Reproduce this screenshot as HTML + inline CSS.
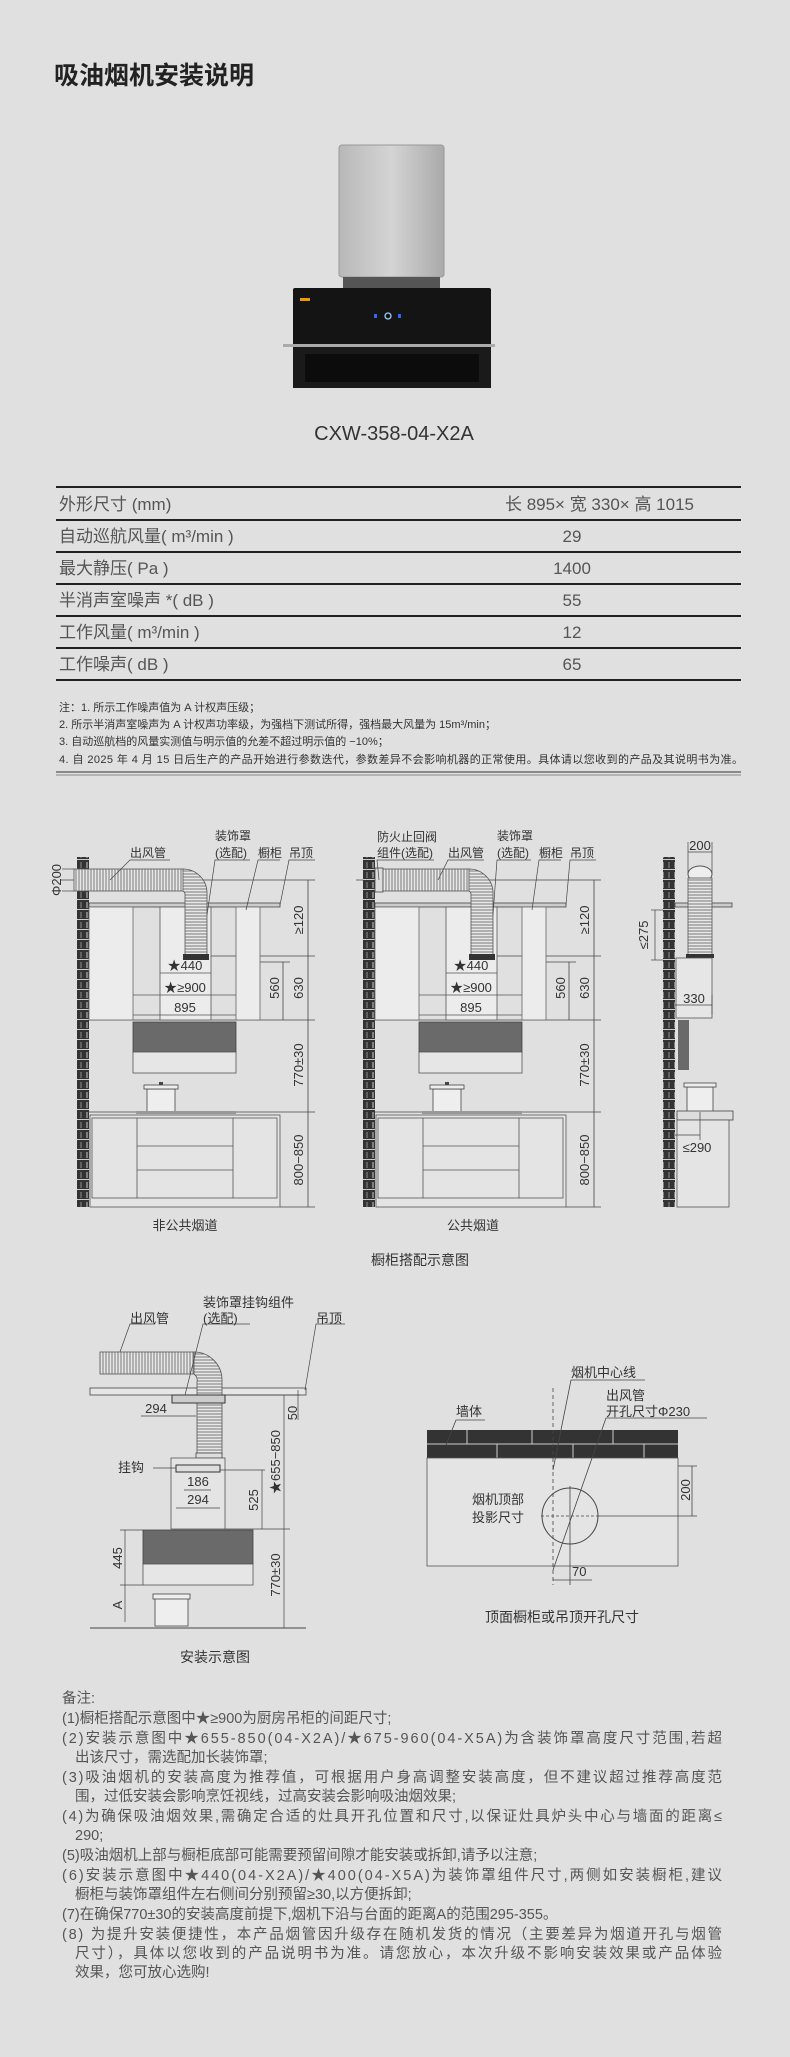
<!DOCTYPE html>
<html><head><meta charset="utf-8"><style>
html,body{margin:0;padding:0;background:#e0e0e0;}
svg{display:block;}
text{font-family:"Liberation Sans","Noto Sans CJK SC",sans-serif;}
</style></head><body>
<svg width="790" height="2057" viewBox="0 0 790 2057" xmlns="http://www.w3.org/2000/svg">
<defs>
<pattern id="st" width="3" height="3" patternUnits="userSpaceOnUse"><rect width="3" height="3" fill="#e8e8e8"/><line x1="1" y1="0" x2="1" y2="3" stroke="#777" stroke-width="1"/></pattern>
<pattern id="sth" width="3" height="3" patternUnits="userSpaceOnUse"><rect width="3" height="3" fill="#e8e8e8"/><line x1="0" y1="1" x2="3" y2="1" stroke="#777" stroke-width="1"/></pattern>
<pattern id="brk" width="12" height="10" patternUnits="userSpaceOnUse"><rect width="12" height="10" fill="#333"/><line x1="0" y1="9.5" x2="12" y2="9.5" stroke="#ccc" stroke-width="1"/><line x1="3" y1="2" x2="3" y2="8" stroke="#ccc"/><line x1="9" y1="2" x2="9" y2="8" stroke="#ccc" stroke-width="0.6"/></pattern>
<linearGradient id="sil" x1="0" x2="1"><stop offset="0" stop-color="#b8b8b8"/><stop offset="0.5" stop-color="#d4d4d4"/><stop offset="1" stop-color="#aaa"/></linearGradient>
</defs>
<rect width="790" height="2057" fill="#e0e0e0"/>
<text x="54" y="84" font-size="25" font-weight="bold" fill="#222">吸油烟机安装说明</text>

<!-- product -->
<rect x="339" y="145" width="105" height="132" rx="3" fill="url(#sil)" stroke="#999"/>
<rect x="343" y="277" width="97" height="12" fill="#555"/>
<rect x="293" y="288" width="198" height="58" rx="2" fill="#141414"/>
<circle cx="388" cy="316" r="3" fill="none" stroke="#9cf" stroke-width="1.3"/>
<rect x="374" y="314" width="3" height="4" fill="#36f"/><rect x="398" y="314" width="3" height="4" fill="#36f"/>
<rect x="300" y="298" width="10" height="3" fill="#e90"/>
<rect x="283" y="344" width="212" height="3" fill="#aaa"/>
<rect x="293" y="347" width="198" height="41" fill="#1a1a1a"/>
<rect x="305" y="354" width="174" height="28" fill="#0c0c0c"/>
<text x="394" y="440" font-size="20" fill="#333" text-anchor="middle">CXW-358-04-X2A</text>

<!-- table -->
<g stroke="#222" stroke-width="2">
<line x1="56" y1="487" x2="741" y2="487"/><line x1="56" y1="520" x2="741" y2="520"/><line x1="56" y1="552" x2="741" y2="552"/><line x1="56" y1="584" x2="741" y2="584"/><line x1="56" y1="616" x2="741" y2="616"/><line x1="56" y1="648" x2="741" y2="648"/><line x1="56" y1="680" x2="741" y2="680"/>
</g>
<g font-size="17" fill="#555">
<text x="59" y="510">外形尺寸 (mm)</text><text x="694" y="510" text-anchor="end">长 895× 宽 330× 高 1015</text>
<text x="59" y="542">自动巡航风量( m³/min )</text><text x="572" y="542" text-anchor="middle">29</text>
<text x="59" y="574">最大静压( Pa )</text><text x="572" y="574" text-anchor="middle">1400</text>
<text x="59" y="606">半消声室噪声 *( dB )</text><text x="572" y="606" text-anchor="middle">55</text>
<text x="59" y="638">工作风量( m³/min )</text><text x="572" y="638" text-anchor="middle">12</text>
<text x="59" y="670">工作噪声( dB )</text><text x="572" y="670" text-anchor="middle">65</text>
</g>
<g font-size="11" fill="#333">
<text x="59" y="711">注：1. 所示工作噪声值为 A 计权声压级；</text>
<text x="59" y="728">2. 所示半消声室噪声为 A 计权声功率级，为强档下测试所得，强档最大风量为 15m³/min；</text>
<text x="59" y="745">3. 自动巡航档的风量实测值与明示值的允差不超过明示值的 −10%；</text>
<text x="59" y="763" textLength="684">4. 自 2025 年 4 月 15 日后生产的产品开始进行参数迭代，参数差异不会影响机器的正常使用。具体请以您收到的产品及其说明书为准。</text>
</g>
<line x1="56" y1="772" x2="741" y2="772" stroke="#333" stroke-width="1"/><line x1="56" y1="775" x2="741" y2="775" stroke="#888" stroke-width="1"/>

<!-- Diagram 1 and 2 -->
<g id="d1">
<g fill="none" stroke="#444" stroke-width="0.8">
<line x1="60" y1="880" x2="315" y2="880"/>
<line x1="210" y1="956" x2="315" y2="956"/>
<line x1="236" y1="962" x2="290" y2="962"/>
<line x1="89" y1="1020" x2="315" y2="1020"/>
<line x1="89" y1="1112" x2="315" y2="1112"/>
<line x1="280" y1="1207" x2="315" y2="1207"/>
<line x1="308" y1="880" x2="308" y2="1207"/>
<line x1="283" y1="962" x2="283" y2="1020"/>
</g>
<rect x="77" y="857" width="12" height="350" fill="url(#brk)"/>
<rect x="89" y="903" width="191" height="4" fill="#ccc" stroke="#444" stroke-width="0.8"/>
<rect x="89" y="907" width="44" height="113" fill="#ececec" stroke="#666" stroke-width="0.8"/>
<rect x="236" y="907" width="24" height="113" fill="#ececec" stroke="#666" stroke-width="0.8"/>
<rect x="160" y="907" width="51" height="113" fill="#ececec" stroke="#555" stroke-width="0.8"/>
<rect x="74" y="869" width="110" height="22" fill="url(#st)" stroke="#555" stroke-width="0.8"/>
<path d="M183 869 A24 24 0 0 1 207 893 L207 955 L185 955 L185 895 A4 4 0 0 0 183 891 Z" fill="url(#sth)" stroke="#555" stroke-width="0.8"/>
<rect x="183" y="954" width="26" height="6" fill="#333"/>
<rect x="133" y="1022" width="103" height="30" fill="#6a6a6a" stroke="#444" stroke-width="0.8"/>
<rect x="133" y="1052" width="103" height="21" fill="#e6e6e6" stroke="#555" stroke-width="0.8"/>
<rect x="147" y="1089" width="28" height="24" fill="#eee" stroke="#444" stroke-width="0.8"/>
<rect x="144" y="1085" width="34" height="4" fill="#eee" stroke="#444" stroke-width="0.8"/>
<rect x="159" y="1082" width="4" height="3" fill="#444"/>
<rect x="136" y="1111" width="100" height="3" fill="#999"/>
<g fill="none" stroke="#555" stroke-width="0.8">
<rect x="90" y="1115" width="190" height="92" fill="#e4e4e4"/>
<rect x="92" y="1118" width="185" height="80"/>
<line x1="137" y1="1118" x2="137" y2="1198"/><line x1="233" y1="1118" x2="233" y2="1198"/>
<line x1="137" y1="1146" x2="233" y2="1146"/><line x1="137" y1="1170" x2="233" y2="1170"/>
<line x1="160" y1="973" x2="211" y2="973"/><line x1="133" y1="995" x2="236" y2="995"/><line x1="133" y1="1015" x2="236" y2="1015"/>
</g>
<g font-size="13" fill="#333" text-anchor="middle">
<text x="185" y="970">★440</text><text x="185" y="992">★≥900</text><text x="185" y="1012">895</text>
<text transform="translate(303,920) rotate(-90)" text-anchor="middle" font-size="13">≥120</text>
<text transform="translate(303,988) rotate(-90)" font-size="13">630</text>
<text transform="translate(279,988) rotate(-90)" font-size="13">560</text>
<text transform="translate(303,1065) rotate(-90)" font-size="13">770±30</text>
<text transform="translate(303,1160) rotate(-90)" font-size="13">800−850</text>
</g>
</g>
<!-- d1 labels -->
<g font-size="12" fill="#333">
<text x="130" y="857">出风管</text><text x="215" y="840">装饰罩</text><text x="215" y="857">(选配)</text><text x="258" y="857">橱柜</text><text x="289" y="857">吊顶</text>
<text transform="translate(61,880) rotate(-90)" text-anchor="middle" font-size="13">Φ200</text>
</g>
<g stroke="#444" stroke-width="0.7" fill="none">
<polyline points="170,860 130,860 110,880"/><polyline points="250,860 215,860 207,915"/><polyline points="280,860 258,860 246,910"/><polyline points="315,860 289,860 280,905"/>
<line x1="62" y1="869" x2="74" y2="869"/><line x1="62" y1="891" x2="74" y2="891"/>
</g>
<g transform="translate(286,0)">
<g fill="none" stroke="#444" stroke-width="0.8">
<line x1="70" y1="880" x2="315" y2="880"/><line x1="210" y1="956" x2="315" y2="956"/><line x1="236" y1="962" x2="290" y2="962"/>
<line x1="89" y1="1020" x2="315" y2="1020"/><line x1="89" y1="1112" x2="315" y2="1112"/><line x1="280" y1="1207" x2="315" y2="1207"/>
<line x1="308" y1="880" x2="308" y2="1207"/><line x1="283" y1="962" x2="283" y2="1020"/>
</g>
<rect x="77" y="857" width="12" height="350" fill="url(#brk)"/>
<rect x="89" y="868" width="8" height="24" fill="#ddd" stroke="#444" stroke-width="0.8"/>
<rect x="89" y="903" width="191" height="4" fill="#ccc" stroke="#444" stroke-width="0.8"/>
<rect x="89" y="907" width="44" height="113" fill="#ececec" stroke="#666" stroke-width="0.8"/>
<rect x="236" y="907" width="24" height="113" fill="#ececec" stroke="#666" stroke-width="0.8"/>
<rect x="160" y="907" width="51" height="113" fill="#ececec" stroke="#555" stroke-width="0.8"/>
<rect x="97" y="869" width="87" height="22" fill="url(#st)" stroke="#555" stroke-width="0.8"/>
<path d="M183 869 A24 24 0 0 1 207 893 L207 955 L185 955 L185 895 A4 4 0 0 0 183 891 Z" fill="url(#sth)" stroke="#555" stroke-width="0.8"/>
<rect x="183" y="954" width="26" height="6" fill="#333"/>
<rect x="133" y="1022" width="103" height="30" fill="#6a6a6a" stroke="#444" stroke-width="0.8"/>
<rect x="133" y="1052" width="103" height="21" fill="#e6e6e6" stroke="#555" stroke-width="0.8"/>
<rect x="147" y="1089" width="28" height="24" fill="#eee" stroke="#444" stroke-width="0.8"/>
<rect x="144" y="1085" width="34" height="4" fill="#eee" stroke="#444" stroke-width="0.8"/>
<rect x="159" y="1082" width="4" height="3" fill="#444"/>
<rect x="136" y="1111" width="100" height="3" fill="#999"/>
<g fill="none" stroke="#555" stroke-width="0.8">
<rect x="90" y="1115" width="190" height="92" fill="#e4e4e4"/>
<rect x="92" y="1118" width="185" height="80"/>
<line x1="137" y1="1118" x2="137" y2="1198"/><line x1="233" y1="1118" x2="233" y2="1198"/>
<line x1="137" y1="1146" x2="233" y2="1146"/><line x1="137" y1="1170" x2="233" y2="1170"/>
<line x1="160" y1="973" x2="211" y2="973"/><line x1="133" y1="995" x2="236" y2="995"/><line x1="133" y1="1015" x2="236" y2="1015"/>
</g>
<g font-size="13" fill="#333" text-anchor="middle">
<text x="185" y="970">★440</text><text x="185" y="992">★≥900</text><text x="185" y="1012">895</text>
<text transform="translate(303,920) rotate(-90)">≥120</text>
<text transform="translate(303,988) rotate(-90)">630</text>
<text transform="translate(279,988) rotate(-90)">560</text>
<text transform="translate(303,1065) rotate(-90)">770±30</text>
<text transform="translate(303,1160) rotate(-90)">800−850</text>
</g>
<g font-size="12" fill="#333">
<text x="91" y="841">防火止回阀</text><text x="91" y="857">组件(选配)</text><text x="162" y="857">出风管</text><text x="211" y="840">装饰罩</text><text x="211" y="857">(选配)</text><text x="253" y="857">橱柜</text><text x="284" y="857">吊顶</text>
</g>
<g stroke="#444" stroke-width="0.7" fill="none">
<polyline points="148,860 91,860 93,880"/><polyline points="198,860 162,860 152,880"/><polyline points="245,860 211,860 207,915"/><polyline points="275,860 253,860 246,910"/><polyline points="310,860 284,860 280,905"/>
</g>
</g>
<!-- side view -->
<g>
<rect x="663" y="857" width="12" height="350" fill="url(#brk)"/>
<rect x="675" y="903" width="57" height="4" fill="#ccc" stroke="#444" stroke-width="0.8"/>
<ellipse cx="700" cy="874" rx="12" ry="8" fill="#eee" stroke="#555"/>
<rect x="688" y="878" width="24" height="77" fill="url(#sth)" stroke="#555" stroke-width="0.8"/>
<rect x="686" y="954" width="28" height="4" fill="#333"/>
<rect x="676" y="958" width="36" height="60" fill="#e6e6e6" stroke="#555" stroke-width="0.8"/>
<rect x="678" y="1020" width="11" height="50" fill="#6a6a6a"/>
<rect x="687" y="1087" width="26" height="26" fill="#eee" stroke="#444" stroke-width="0.8"/>
<rect x="684" y="1083" width="32" height="4" fill="#eee" stroke="#444" stroke-width="0.8"/>
<rect x="677" y="1111" width="56" height="9" fill="#ddd" stroke="#444" stroke-width="0.8"/>
<rect x="677" y="1120" width="52" height="87" fill="#e4e4e4" stroke="#555" stroke-width="0.8"/>
<g stroke="#444" stroke-width="0.7" fill="none">
<line x1="688" y1="842" x2="688" y2="874"/><line x1="712" y1="842" x2="712" y2="874"/><line x1="688" y1="852" x2="712" y2="852"/>
<line x1="651" y1="910" x2="663" y2="910"/><line x1="651" y1="960" x2="663" y2="960"/><line x1="655" y1="910" x2="655" y2="960"/>
<line x1="675" y1="1005" x2="712" y2="1005"/><line x1="712" y1="995" x2="712" y2="1015"/>
<line x1="675" y1="1135" x2="700" y2="1135"/><line x1="700" y1="1112" x2="700" y2="1140"/>
</g>
<g font-size="13" fill="#333" text-anchor="middle">
<text x="700" y="850">200</text><text x="694" y="1003">330</text><text x="697" y="1152">≤290</text>
<text transform="translate(648,935) rotate(-90)">≤275</text>
</g>
</g>
<g font-size="13" fill="#333" text-anchor="middle">
<text x="185" y="1230">非公共烟道</text><text x="473" y="1230">公共烟道</text>
<text x="420" y="1265" font-size="14">橱柜搭配示意图</text>
</g>

<!-- install diagram -->
<g>
<rect x="90" y="1388" width="216" height="7" fill="#e6e6e6" stroke="#444" stroke-width="0.8"/>
<rect x="100" y="1352" width="95" height="22" fill="url(#st)" stroke="#555" stroke-width="0.8"/>
<path d="M194 1352 A28 28 0 0 1 222 1380 L222 1455 L197 1455 L197 1382 A8 8 0 0 0 194 1374 Z" fill="url(#sth)" stroke="#555" stroke-width="0.8"/>
<rect x="172" y="1395" width="53" height="8" fill="#ccc" stroke="#333" stroke-width="1"/>
<rect x="196" y="1453" width="26" height="5" fill="#ddd" stroke="#444" stroke-width="0.8"/>
<rect x="171" y="1458" width="54" height="71" fill="#e4e4e4" stroke="#555" stroke-width="0.8"/>
<rect x="176" y="1465" width="44" height="7" fill="#ddd" stroke="#333" stroke-width="1"/>
<rect x="143" y="1530" width="110" height="34" fill="#6a6a6a" stroke="#444" stroke-width="0.8"/>
<rect x="143" y="1564" width="110" height="21" fill="#e6e6e6" stroke="#555" stroke-width="0.8"/>
<rect x="155" y="1598" width="33" height="28" fill="#eee" stroke="#444" stroke-width="0.8"/>
<rect x="153" y="1594" width="37" height="5" fill="#eee" stroke="#444" stroke-width="0.8"/>
<line x1="90" y1="1628" x2="306" y2="1628" stroke="#444"/>
<g stroke="#444" stroke-width="0.7" fill="none">
<line x1="225" y1="1395" x2="300" y2="1395"/><line x1="225" y1="1529" x2="290" y2="1529"/><line x1="120" y1="1530" x2="143" y2="1530"/><line x1="120" y1="1585" x2="143" y2="1585"/>
<line x1="125" y1="1530" x2="125" y2="1622"/><line x1="284" y1="1395" x2="284" y2="1628"/><line x1="262" y1="1470" x2="262" y2="1529"/><line x1="298" y1="1390" x2="298" y2="1420"/>
<line x1="171" y1="1416" x2="196" y2="1416"/><line x1="141" y1="1416" x2="171" y2="1416"/>
<line x1="184" y1="1490" x2="211" y2="1490"/><line x1="176" y1="1508" x2="220" y2="1508"/>
<line x1="220" y1="1470" x2="265" y2="1470"/>
<polyline points="155,1324 130,1324 120,1352"/><polyline points="250,1324 203,1324 185,1395"/><polyline points="345,1324 316,1324 305,1390"/><line x1="153" y1="1468" x2="176" y2="1468"/>
</g>
<g font-size="13" fill="#333" text-anchor="middle">
<text x="156" y="1413">294</text><text x="198" y="1486">186</text><text x="198" y="1504">294</text>
<text transform="translate(258,1500) rotate(-90)">525</text>
<text transform="translate(280,1462) rotate(-90)">★655−850</text>
<text transform="translate(297,1413) rotate(-90)">50</text>
<text transform="translate(122,1558) rotate(-90)">445</text>
<text transform="translate(122,1605) rotate(-90)">A</text>
<text transform="translate(280,1575) rotate(-90)">770±30</text>
</g>
<g font-size="13" fill="#333">
<text x="203" y="1307">装饰罩挂钩组件</text><text x="203" y="1323">(选配)</text><text x="130" y="1323">出风管</text><text x="316" y="1323">吊顶</text><text x="118" y="1472">挂钩</text>
</g>
<text x="215" y="1662" font-size="14" fill="#333" text-anchor="middle">安装示意图</text>
</g>

<!-- top view -->
<g>
<rect x="427" y="1430" width="251" height="28" fill="#333"/>
<g stroke="#ccc" stroke-width="1">
<line x1="427" y1="1444" x2="678" y2="1444"/>
<line x1="467" y1="1430" x2="467" y2="1444"/><line x1="532" y1="1430" x2="532" y2="1444"/><line x1="613" y1="1430" x2="613" y2="1444"/>
<line x1="497" y1="1444" x2="497" y2="1458"/><line x1="573" y1="1444" x2="573" y2="1444"/><line x1="573" y1="1444" x2="573" y2="1458"/><line x1="644" y1="1444" x2="644" y2="1458"/>
</g>
<rect x="427" y="1458" width="251" height="108" fill="#e4e4e4" stroke="#555" stroke-width="0.8"/>
<ellipse cx="570" cy="1516" rx="28" ry="28" fill="none" stroke="#444"/>
<g stroke="#444" stroke-width="0.8" fill="none">
<line x1="553" y1="1388" x2="553" y2="1585" stroke-dasharray="4,3"/>
<line x1="541" y1="1516" x2="598" y2="1516" stroke-dasharray="3,2"/>
<line x1="570" y1="1486" x2="570" y2="1585"/>
<line x1="598" y1="1516" x2="697" y2="1516"/><line x1="678" y1="1466" x2="697" y2="1466"/><line x1="692" y1="1466" x2="692" y2="1516"/>
<line x1="553" y1="1580" x2="592" y2="1580"/>
<polyline points="645,1380 571,1380 553,1470"/><polyline points="707,1418 606,1418 553,1570"/><polyline points="485,1420 456,1420 446,1445"/>
</g>
<g font-size="13" fill="#333">
<text x="571" y="1377">烟机中心线</text><text x="606" y="1400">出风管</text><text x="606" y="1416">开孔尺寸Φ230</text><text x="456" y="1416">墙体</text>
<text x="472" y="1504">烟机顶部</text><text x="472" y="1522">投影尺寸</text><text x="572" y="1576">70</text>
<text transform="translate(690,1490) rotate(-90)" text-anchor="middle">200</text>
</g>
<text x="562" y="1622" font-size="14" fill="#333" text-anchor="middle">顶面橱柜或吊顶开孔尺寸</text>
</g>

<!-- notes -->
<g font-size="14.5" fill="#555">
<text x="62" y="1703">备注:</text>
<text x="62" y="1723">(1)橱柜搭配示意图中★≥900为厨房吊柜的间距尺寸;</text>
<text x="62" y="1743" textLength="660">(2)安装示意图中★655-850(04-X2A)/★675-960(04-X5A)为含装饰罩高度尺寸范围,若超</text>
<text x="75" y="1762">出该尺寸，需选配加长装饰罩;</text>
<text x="62" y="1782" textLength="660">(3)吸油烟机的安装高度为推荐值，可根据用户身高调整安装高度，但不建议超过推荐高度范</text>
<text x="75" y="1801">围，过低安装会影响烹饪视线，过高安装会影响吸油烟效果;</text>
<text x="62" y="1821" textLength="660">(4)为确保吸油烟效果,需确定合适的灶具开孔位置和尺寸,以保证灶具炉头中心与墙面的距离≤</text>
<text x="75" y="1840">290;</text>
<text x="62" y="1860">(5)吸油烟机上部与橱柜底部可能需要预留间隙才能安装或拆卸,请予以注意;</text>
<text x="62" y="1880" textLength="660">(6)安装示意图中★440(04-X2A)/★400(04-X5A)为装饰罩组件尺寸,两侧如安装橱柜,建议</text>
<text x="75" y="1899">橱柜与装饰罩组件左右侧间分别预留≥30,以方便拆卸;</text>
<text x="62" y="1919">(7)在确保770±30的安装高度前提下,烟机下沿与台面的距离A的范围295-355。</text>
<text x="62" y="1939" textLength="660">(8) 为提升安装便捷性，本产品烟管因升级存在随机发货的情况（主要差异为烟道开孔与烟管</text>
<text x="75" y="1958" textLength="647">尺寸），具体以您收到的产品说明书为准。请您放心，本次升级不影响安装效果或产品体验</text>
<text x="75" y="1977">效果，您可放心选购!</text>
</g>
</svg>
</body></html>
